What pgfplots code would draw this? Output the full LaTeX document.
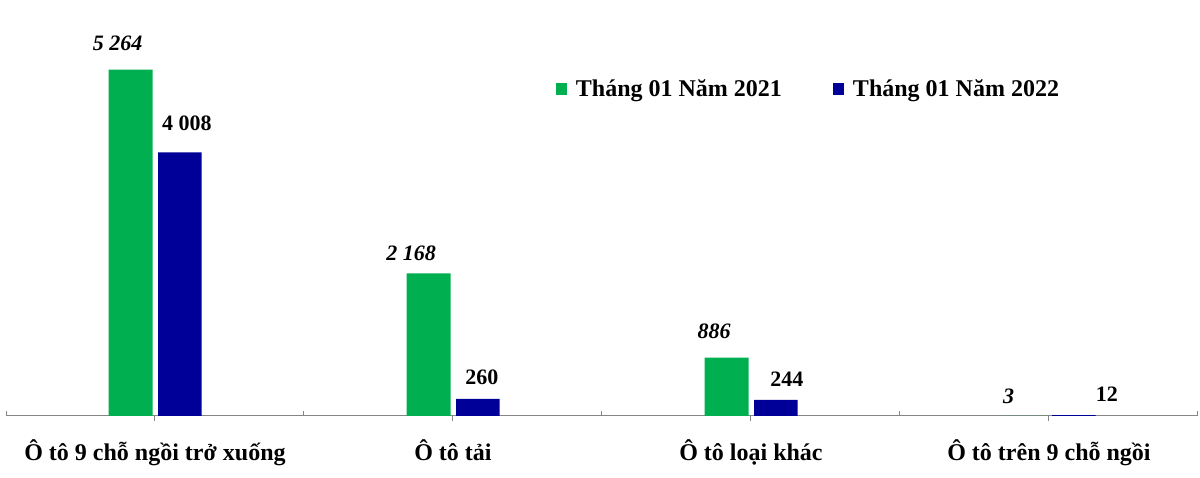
\documentclass[border=0pt]{standalone}
\usepackage{fontspec}
\setmainfont{Liberation Serif}
\usepackage{pgfplots}
\usepackage{pgfplotstable}
\pgfplotsset{compat=1.18}
\definecolor{cgreen}{RGB}{0,176,80}
\definecolor{cblue}{RGB}{0,0,153}
\definecolor{axgray}{RGB}{134,134,134}

\pgfplotstableread{
x y lab dx dy
0 5264 {5 264} -13 19
1 2168 {2 168} -17.5 13
2 886 886 -12.5 19
3 3 3 -16 12.5
}\greendata
\pgfplotstableread{
x y lab dx dy
0 4008 {4 008} 7 22
1 260 260 4 14
2 244 244 11 13
3 12 12 33 13.5
}\bluedata

\begin{document}
\begin{tikzpicture}
\useasboundingbox (0,0) rectangle (1200pt,478pt);
\begin{axis}[
  at={(6pt,62pt)}, anchor=south west,
  scale only axis, width=1192pt, height=394.8pt,
  xmin=-0.5, xmax=3.5, ymin=0, ymax=6000,
  ybar,
  axis x line*=bottom, axis y line=none,
  axis line style={draw=axgray, line width=1pt},
  xtick={0,1,2,3},
  xticklabels={Ô tô 9 chỗ ngồi trở xuống, Ô tô tải, Ô tô loại khác, Ô tô trên 9 chỗ ngồi},
  xtick align=outside,
  major tick length=5pt,
  tick style={draw=axgray, line width=1pt},
  extra x ticks={-0.5,0.5,1.5,2.5,3.5},
  extra x tick labels={},
  extra x tick style={xtick align=inside},
  xticklabel style={font=\bfseries\fontsize{24}{28}\selectfont, anchor=base, yshift=-40pt},
  ytick=\empty,
  clip=false,
  legend columns=2,
  legend style={at={(0.4614,0.8285)}, anchor=west, draw=none, fill=none,
    inner sep=0pt, outer sep=0pt,
    font=\bfseries\fontsize{24}{28}\selectfont,
    legend cell align=left,
    nodes={inner sep=0pt, outer sep=0pt},
    /tikz/every odd column/.append style={column sep=9pt},
    /tikz/every even column/.append style={column sep=51pt}},
  legend image code/.code={\fill[#1] (0pt,-5.6pt) rectangle (11pt,6.4pt);},
]
\addplot[bar width=44pt, bar shift=-24.3pt, fill=cgreen, draw=none,
  point meta=explicit symbolic, nodes near coords,
  visualization depends on={\thisrow{dx} \as \labdx},
  visualization depends on={\thisrow{dy} \as \labdy},
  every node near coord/.append style={font=\bfseries\itshape\fontsize{22}{26}\selectfont,
    text=black, anchor=base, inner sep=0pt, xshift=\labdx pt, yshift=\labdy pt}]
  table[x=x, y=y, meta=lab] {\greendata};
\addplot[bar width=43.5pt, bar shift=25pt, fill=cblue, draw=none,
  point meta=explicit symbolic, nodes near coords,
  visualization depends on={\thisrow{dx} \as \labdx},
  visualization depends on={\thisrow{dy} \as \labdy},
  every node near coord/.append style={font=\bfseries\fontsize{22}{26}\selectfont,
    text=black, anchor=base, inner sep=0pt, xshift=\labdx pt, yshift=\labdy pt}]
  table[x=x, y=y, meta=lab] {\bluedata};
\legend{Tháng 01 Năm 2021, Tháng 01 Năm 2022}
\end{axis}
\end{tikzpicture}
\end{document}
